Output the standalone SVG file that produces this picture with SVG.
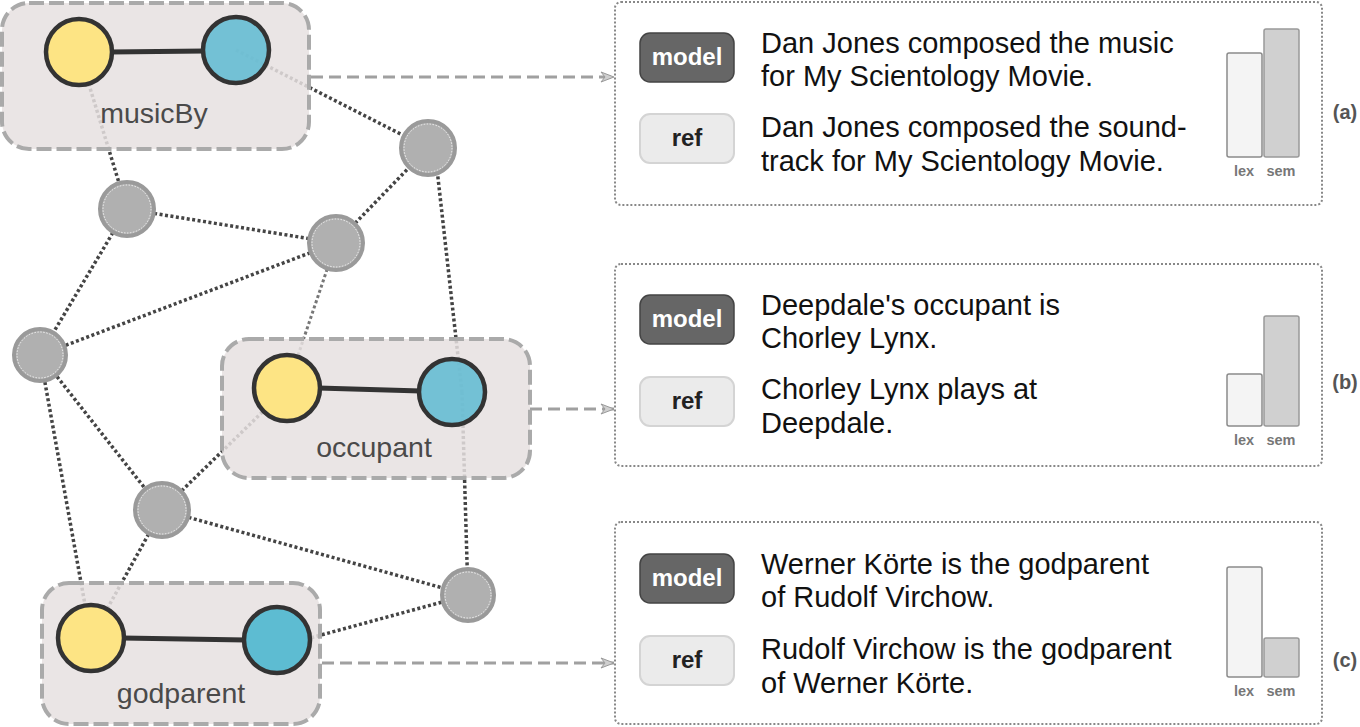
<svg xmlns="http://www.w3.org/2000/svg" width="1360" height="727" viewBox="0 0 1360 727">
<style>
.edge{fill:none;stroke:#444;stroke-width:3.5;stroke-dasharray:3 2.5}
.edgel{fill:none;stroke:#777;stroke-width:3;stroke-dasharray:3 2.5}
.rel{fill:#e6e1e1;fill-opacity:.85;stroke:#aaa;stroke-width:4;stroke-dasharray:15 5}
.yel{fill:#fde484;stroke:#333;stroke-width:4.5}
.blu{fill:#66bdd3;fill-opacity:.9;stroke:#333;stroke-width:4.5}
.blu2{fill:#5dbcd2;stroke:#333;stroke-width:4.5}
.link{stroke:#333;stroke-width:5}
.gn{fill:#b0b0b0;stroke:#9a9a9a;stroke-width:4}
.gi{fill:none;stroke:#fff;stroke-width:.8;stroke-dasharray:1.5 1.5}
.lbl{font-family:"Liberation Sans",Arial,sans-serif;font-size:28.5px;fill:#4a4a4a;text-anchor:middle}
.arr{fill:none;stroke:#a0a0a0;stroke-width:3;stroke-dasharray:12 6}
.panel{fill:#fff;stroke:#888;stroke-width:2;stroke-dasharray:2 2}
.bm{fill:#666;stroke:#444;stroke-width:1.5}
.br{fill:#ebebeb;stroke:#d4d4d4;stroke-width:2}
.bt{font-family:"Liberation Sans",Arial,sans-serif;font-weight:bold;font-size:24px;text-anchor:middle}
.sent{font-family:"Liberation Sans",Arial,sans-serif;font-size:29px;fill:#111}
.lex{fill:#f4f4f4;stroke:#8a8a8a;stroke-width:1.5}
.sem{fill:#d0d0d0;stroke:#999;stroke-width:1.5}
.ax{font-family:"Liberation Sans",Arial,sans-serif;font-weight:bold;font-size:14.5px;fill:#777;text-anchor:middle}
.tag{font-family:"Liberation Sans",Arial,sans-serif;font-weight:bold;font-size:20px;fill:#555;text-anchor:middle}
</style>
<defs>
<marker id="ah" markerWidth="16" markerHeight="12" refX="14" refY="6" orient="auto" markerUnits="userSpaceOnUse">
<path d="M1,1 L14,6 L1,11 L5,6 Z" fill="#cfcfcf" stroke="#999" stroke-width="1"/>
</marker>
</defs>
<rect width="1360" height="727" fill="#fff"/>

<g id="connectors">
<line class="edge" x1="236" y1="50" x2="428" y2="148"/>
<line class="edge" x1="79" y1="52" x2="127" y2="209"/>
<line class="edge" x1="127" y1="209" x2="336" y2="243"/>
<line class="edge" x1="127" y1="209" x2="40" y2="355"/>
<line class="edge" x1="336" y1="243" x2="428" y2="148"/>
<line class="edge" x1="336" y1="243" x2="40" y2="355"/>
<line class="edgel" x1="336" y1="243" x2="287" y2="388"/>
<line class="edge" x1="436" y1="160" x2="462" y2="392"/>
<line class="edge" x1="462" y1="392" x2="468" y2="595"/>
<line class="edge" x1="40" y1="355" x2="162" y2="510"/>
<line class="edge" x1="40" y1="355" x2="91" y2="638"/>
<line class="edge" x1="162" y1="510" x2="287" y2="388"/>
<line class="edge" x1="162" y1="510" x2="91" y2="638"/>
<line class="edge" x1="162" y1="510" x2="468" y2="595"/>
<line class="edge" x1="468" y1="595" x2="277" y2="647"/>
<line class="arr" x1="311" y1="77" x2="614" y2="77" marker-end="url(#ah)"/>
<line class="arr" x1="530" y1="409" x2="614" y2="409" marker-end="url(#ah)"/>
<line class="arr" x1="322" y1="663" x2="614" y2="663" marker-end="url(#ah)"/>
</g>

<g id="g1"><circle class="gn" cx="428" cy="148" r="27"/><circle class="gi" cx="428" cy="148" r="24"/></g>
<g id="g2"><circle class="gn" cx="127" cy="209" r="27"/><circle class="gi" cx="127" cy="209" r="24"/></g>
<g id="g3"><circle class="gn" cx="336" cy="243" r="27"/><circle class="gi" cx="336" cy="243" r="24"/></g>
<g id="g4"><circle class="gn" cx="40" cy="355" r="26"/><circle class="gi" cx="40" cy="355" r="23"/></g>
<g id="g5"><circle class="gn" cx="162" cy="510" r="27"/><circle class="gi" cx="162" cy="510" r="24"/></g>
<g id="g6"><circle class="gn" cx="468" cy="595" r="26"/><circle class="gi" cx="468" cy="595" r="23"/></g>

<g id="musicBy">
<rect class="rel" x="2" y="3" width="307" height="146" rx="27"/>
<line class="link" x1="110" y1="52" x2="205" y2="51"/>
<circle class="yel" cx="79" cy="52" r="33"/>
<circle class="blu" cx="236" cy="50" r="33"/>
<text class="lbl" x="154" y="123">musicBy</text>
</g>

<g id="occupant">
<rect class="rel" x="222" y="339" width="308" height="139" rx="27"/>
<line class="link" x1="318" y1="388" x2="421" y2="391"/>
<circle class="yel" cx="287" cy="388" r="33"/>
<circle class="blu" cx="452" cy="392" r="33"/>
<text class="lbl" x="374" y="457">occupant</text>
</g>

<g id="godparent">
<rect class="rel" x="42" y="583" width="278" height="141" rx="27"/>
<line class="link" x1="122" y1="638" x2="246" y2="640"/>
<circle class="yel" cx="91" cy="638" r="33"/>
<circle class="blu2" cx="277" cy="640" r="33"/>
<text class="lbl" x="181" y="703">godparent</text>
</g>

<g id="panel-a">
<rect class="panel" x="615" y="2" width="707" height="203" rx="6"/>
<rect class="bm" x="640" y="33" width="94" height="49" rx="10"/>
<text class="bt" x="687" y="65" fill="#fff">model</text>
<rect class="br" x="640" y="114" width="94" height="49" rx="10"/>
<text class="bt" x="687" y="146" fill="#222">ref</text>
<text class="sent" x="761" y="52.5">Dan Jones composed the music</text>
<text class="sent" x="761" y="86">for My Scientology Movie.</text>
<text class="sent" x="761" y="137">Dan Jones composed the sound-</text>
<text class="sent" x="761" y="170.5">track for My Scientology Movie.</text>
<rect class="lex" x="1227" y="53" width="35" height="104" rx="2"/>
<rect class="sem" x="1264" y="29" width="35" height="128" rx="2"/>
<text class="ax" x="1244" y="176">lex</text>
<text class="ax" x="1281" y="176">sem</text>
<text class="tag" x="1345" y="119">(a)</text>
</g>

<g id="panel-b">
<rect class="panel" x="615" y="264" width="707" height="202" rx="6"/>
<rect class="bm" x="640" y="295" width="94" height="49" rx="10"/>
<text class="bt" x="687" y="327" fill="#fff">model</text>
<rect class="br" x="640" y="377" width="94" height="49" rx="10"/>
<text class="bt" x="687" y="409" fill="#222">ref</text>
<text class="sent" x="761" y="314.5">Deepdale's occupant is</text>
<text class="sent" x="761" y="348">Chorley Lynx.</text>
<text class="sent" x="761" y="399">Chorley Lynx plays at</text>
<text class="sent" x="761" y="432.5">Deepdale.</text>
<rect class="lex" x="1227" y="374" width="35" height="52" rx="2"/>
<rect class="sem" x="1264" y="316" width="35" height="110" rx="2"/>
<text class="ax" x="1244" y="445">lex</text>
<text class="ax" x="1281" y="445">sem</text>
<text class="tag" x="1345" y="389">(b)</text>
</g>

<g id="panel-c">
<rect class="panel" x="615" y="522" width="707" height="202" rx="6"/>
<rect class="bm" x="640" y="554" width="94" height="49" rx="10"/>
<text class="bt" x="687" y="586" fill="#fff">model</text>
<rect class="br" x="640" y="636" width="94" height="49" rx="10"/>
<text class="bt" x="687" y="668" fill="#222">ref</text>
<text class="sent" x="761" y="573.5">Werner Körte is the godparent</text>
<text class="sent" x="761" y="607">of Rudolf Virchow.</text>
<text class="sent" x="761" y="659">Rudolf Virchow is the godparent</text>
<text class="sent" x="761" y="692.5">of Werner Körte.</text>
<rect class="lex" x="1227" y="567" width="35" height="110" rx="2"/>
<rect class="sem" x="1264" y="638" width="35" height="39" rx="2"/>
<text class="ax" x="1244" y="696">lex</text>
<text class="ax" x="1281" y="696">sem</text>
<text class="tag" x="1345" y="667">(c)</text>
</g>
</svg>
